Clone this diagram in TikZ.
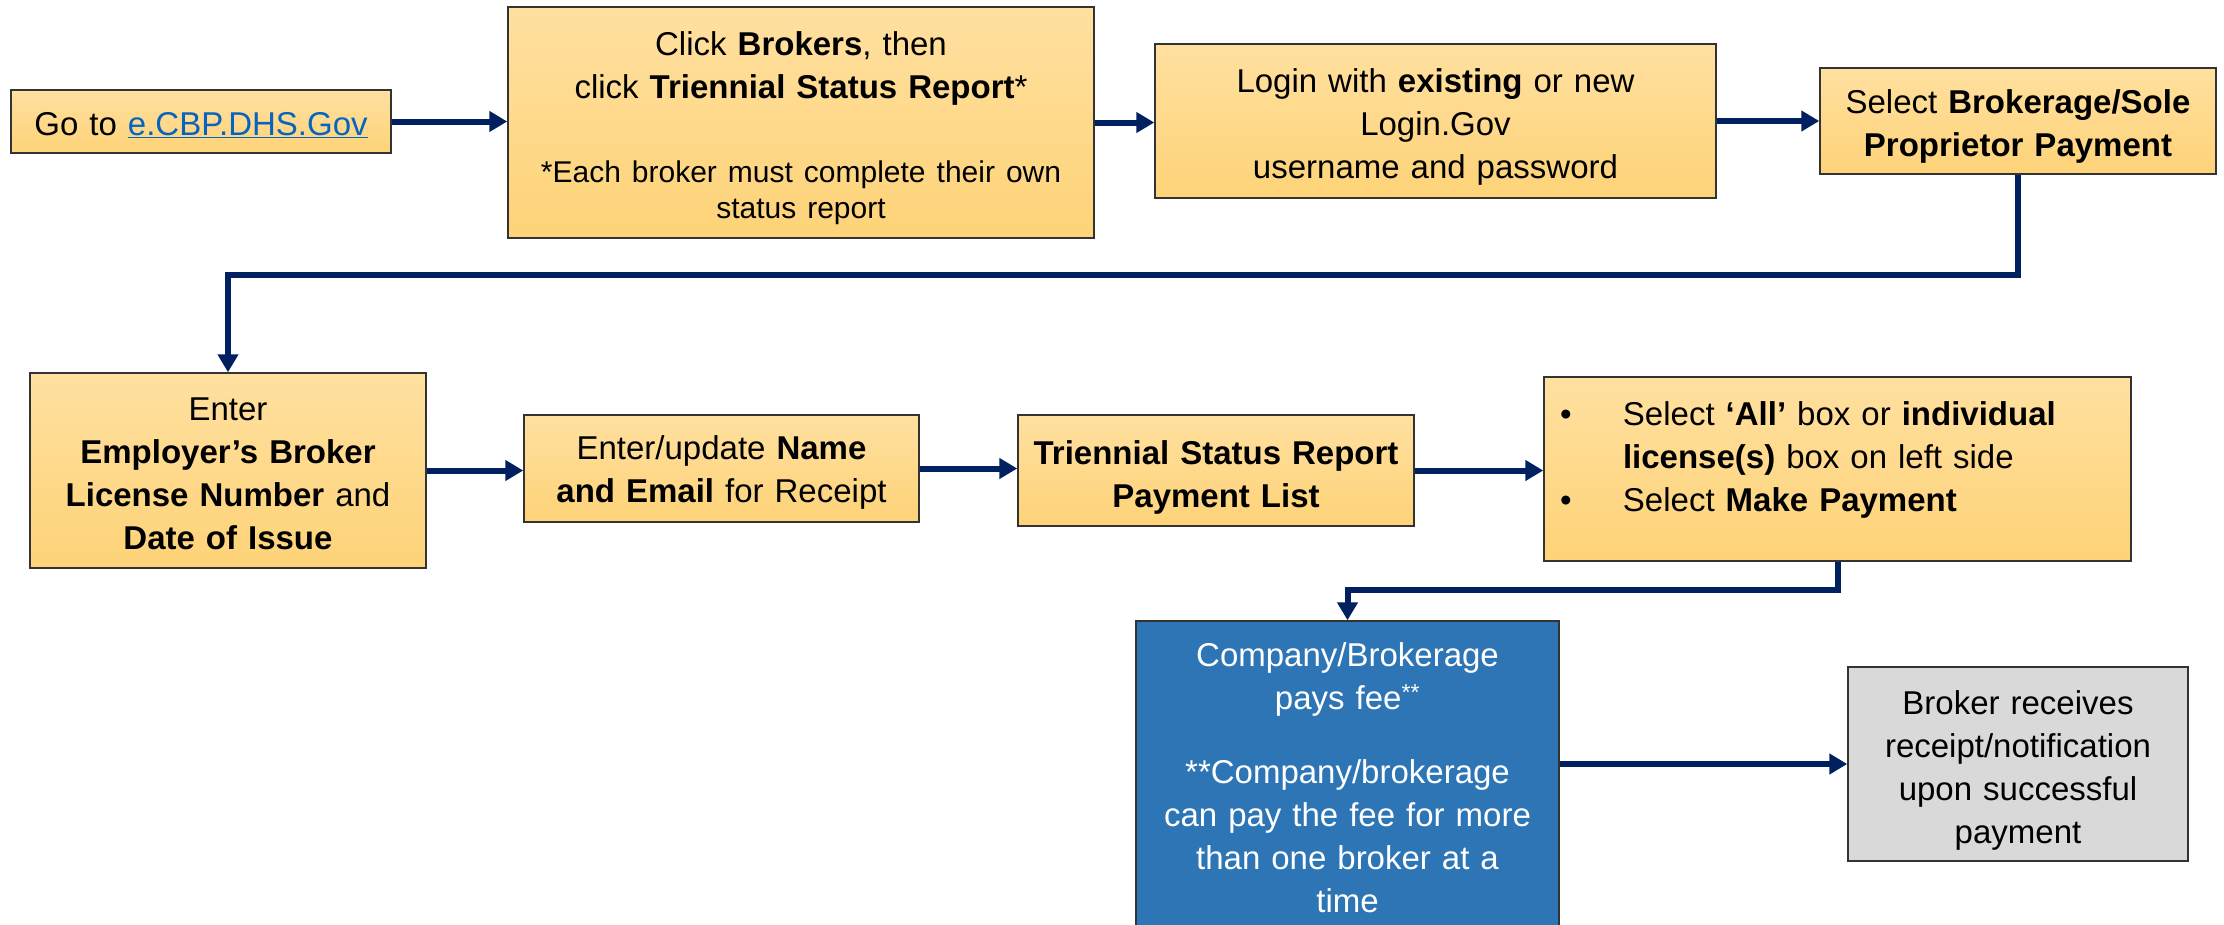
\documentclass[tikz,border=0pt]{standalone}
\usepackage{fontspec}
\setmainfont{Liberation Sans}
\usetikzlibrary{arrows.meta}
\definecolor{goldtop}{RGB}{255,224,160}
\definecolor{goldbot}{RGB}{254,211,120}
\definecolor{navy}{RGB}{0,32,96}
\definecolor{cbpblue}{RGB}{46,117,182}
\definecolor{greybox}{RGB}{217,217,217}
\definecolor{linkblue}{RGB}{5,99,193}
\newcommand\topgap[1]{\rule{0pt}{\dimexpr 24.5pt+#1\relax}}
\newcommand\botgap[1]{\rule[-#1]{0pt}{#1}}
\begin{document}
\begin{tikzpicture}[x=1pt,y=-1pt,
  box/.style={draw=black!80, line width=1.5pt, inner sep=0pt, align=center,
    font=\fontsize{33}{43}\selectfont},
  gold/.style={box, top color=goldtop, bottom color=goldbot},
  arr/.style={draw=navy, line width=6pt, -{Triangle[length=18pt,width=20pt]}}]
\useasboundingbox (0,0) rectangle (2224,924);

\node[gold, minimum width=380pt, minimum height=63pt, text width=360pt] (b1) at (201,121.5)
  {\topgap{6pt}Go to \textcolor{linkblue}{\underline{e.CBP.DHS.Gov}}};

\node[gold, minimum width=586pt, minimum height=231pt, text width=566pt] (b2) at (801,122.5)
  {{\topgap{10pt}Click \textbf{Brokers}, then\\ click \textbf{Triennial Status Report}*\par}
   \vspace{48pt}
   {\fontsize{30}{36}\selectfont *Each broker must complete their own\\ status report\par}};

\node[gold, minimum width=561pt, minimum height=154pt, text width=541pt] (b3) at (1435.5,121)
  {\topgap{12pt}Login with \textbf{existing} or new\\ Login.Gov\\ username and password};

\node[gold, minimum width=396pt, minimum height=106pt, text width=380pt] (b4) at (2018,121)
  {\topgap{10pt}Select \textbf{Brokerage/Sole}\\ \textbf{Proprietor Payment}};

\node[gold, minimum width=396pt, minimum height=195pt, text width=376pt] (b5) at (228,470.5)
  {\topgap{4pt}Enter\\ \textbf{Employer’s Broker}\\ \textbf{License Number} and\\ \textbf{Date of Issue}};

\node[gold, minimum width=395pt, minimum height=107pt, text width=375pt] (b6) at (721.5,468.5)
  {\topgap{8pt}Enter/update \textbf{Name}\\ \textbf{and Email} for Receipt};

\node[gold, minimum width=396pt, minimum height=111pt, text width=376pt] (b7) at (1216,470.5)
  {\topgap{14pt}\textbf{Triennial Status Report}\\ \textbf{Payment List}};

\node[gold, minimum width=587pt, minimum height=184pt, text width=555pt, align=left] (b8) at (1837.5,469)
  {\makebox[63pt][l]{•}Select \textbf{‘All’} box or \textbf{individual}\\
   \hspace*{63pt}\textbf{license(s)} box on left side\\
   \makebox[63pt][l]{•}Select \textbf{Make Payment}\botgap{25pt}};

\node[box, fill=cbpblue, text=white, minimum width=423pt, minimum height=313pt, text width=403pt] (b9) at (1347.5,777.5)
  {Company/Brokerage\\ pays fee\textsuperscript{**}\\[31pt]
   **Company/brokerage\\ can pay the fee for more\\ than one broker at a\\ time};

\node[box, fill=greybox, minimum width=340pt, minimum height=194pt, text width=324pt] (b10) at (2018,764)
  {\topgap{12pt}Broker receives\\ receipt/notification\\ upon successful\\ payment};

\draw[arr] (b1.east) -- (b1.east -| b2.west);
\draw[arr] (b2.east) -- (b2.east -| b3.west);
\draw[arr] (b3.east) -- (b3.east -| b4.west);
\draw[arr] (b4.south) -- ++(0,100) -| (b5.north);
\draw[arr] (b5.east) -- (b5.east -| b6.west);
\draw[arr] (b6.east) -- (b6.east -| b7.west);
\draw[arr] (b7.east) -- (b7.east -| b8.west);
\draw[arr] (b8.south) -- ++(0,28) -| (b9.north);
\draw[arr] (b9.east |- b10.west) -- (b10.west);
\end{tikzpicture}
\end{document}
